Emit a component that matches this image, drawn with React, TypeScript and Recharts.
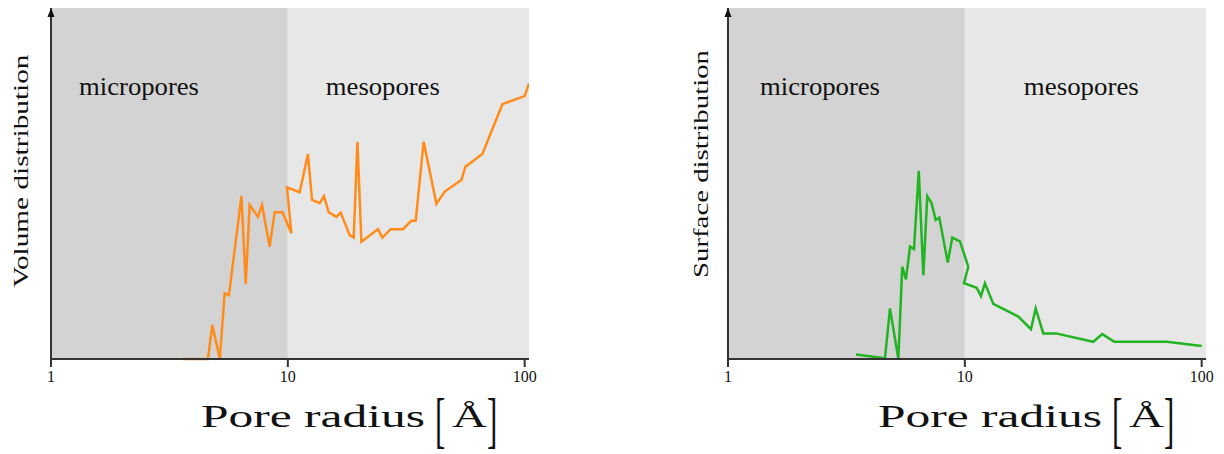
import React from 'react';
import { LineChart, Line, XAxis, YAxis, ReferenceArea } from 'recharts';

// Pore radius [Å] and volume distribution (arbitrary units, 0-100)
const volumeRadius = [
  3.61, 4.6, 4.8, 5.16, 5.41, 5.64, 6.37, 6.64, 6.9, 7.48,
  7.78, 8.38, 8.8, 9.5, 10.35, 9.92, 11.22, 12.16, 12.65, 13.63,
  14.21, 14.88, 16.03, 16.72, 18.24, 18.97, 19.67, 20.45, 24.03, 25.07,
  27.19, 30.64, 33.24, 34.66, 37.46, 42.39, 45.95, 54.05, 56.19, 66.29,
  80.51, 100, 104.3,
];
const volumeValues = [
  0, 0, 9.7, 0, 18.7, 18.2, 46.4, 21.4, 43.9, 40.5,
  43.9, 32.0, 41.8, 41.8, 35.8, 48.9, 47.5, 58.4, 45.3, 44.4,
  46.4, 41.8, 40.5, 41.7, 35.3, 34.6, 61.9, 33.4, 37.0, 34.6,
  37.0, 37.0, 39.4, 39.4, 61.9, 44.2, 47.7, 51.0, 54.8, 58.4,
  72.6, 74.9, 78.5,
];

// Pore radius [Å] and surface distribution (arbitrary units, 0-100)
const surfaceRadius = [
  3.47, 4.6, 4.83, 5.24, 5.44, 5.64, 5.87, 6.1, 6.39, 6.68,
  6.94, 7.24, 7.53, 7.8, 8.47, 8.85, 9.54, 10.34, 9.92, 11.22,
  11.7, 12.16, 13.19, 16.82, 19.02, 19.91, 21.44, 24.25, 34.85, 38.05,
  42.76, 71.17, 100,
];
const surfaceValues = [
  1.3, 0.2, 14.4, 0, 26.3, 22.7, 32.0, 31.3, 53.6, 23.9,
  46.4, 44.4, 39.6, 40.3, 27.5, 34.6, 33.5, 26.3, 21.6, 20.3,
  17.9, 21.6, 15.7, 12.1, 8.5, 14.4, 7.3, 7.3, 4.9, 7.1,
  4.9, 4.9, 3.7,
];

const xTicks = [1, 10, 100];
const regionNames = ['micropores', 'mesopores'];
const regionEdges = [1, 10, 104.3];
const regionFills = ['#d3d3d3', '#e7e7e7'];

const SERIF = 'Liberation Serif, Times New Roman, serif';
const AXIS = '#333333';

type PanelProps = {
  left: number;
  marginLeft: number;
  marginRight: number;
  radius: number[];
  values: number[];
  color: string;
  yLabel: string;
  yLabelLen: number;
  yLabelX: number;
  yLabelCy: number;
  regionDx: number[];
  regionLen: number[];
};

function RadiusLabel({ viewBox }: any) {
  const x0 = viewBox.x + 150;
  const base = viewBox.y + 68;
  return (
    <g fill="#111" style={{ fontFamily: SERIF }}>
      <text x={x0} y={base} fontSize={32} textLength={224} lengthAdjust="spacingAndGlyphs">
        Pore radius
      </text>
      <text transform={`translate(${x0 + 234},${viewBox.y + 82}) scale(0.5,1)`} fontSize={62}>
        [
      </text>
      <text x={x0 + 251} y={base} fontSize={32} textLength={35} lengthAdjust="spacingAndGlyphs">
        Å
      </text>
      <text transform={`translate(${x0 + 286},${viewBox.y + 82}) scale(0.5,1)`} fontSize={62}>
        ]
      </text>
    </g>
  );
}

function Panel(p: PanelProps) {
  const data = p.radius.map((r, i) => ({ r, v: p.values[i] }));
  return (
    <div style={{ position: 'absolute', left: p.left, top: 0 }}>
      <LineChart
        width={612}
        height={454}
        data={data}
        margin={{ top: 8, right: p.marginRight, bottom: 0, left: p.marginLeft - 1 }}
      >
        {regionNames.map((name, i) => (
          <ReferenceArea
            key={name}
            x1={regionEdges[i]}
            x2={regionEdges[i + 1]}
            y1={0}
            y2={100}
            fill={regionFills[i]}
            fillOpacity={1}
            stroke="none"
            label={(lp: any) => (
              <text
                x={lp.viewBox.x + p.regionDx[i]}
                y={lp.viewBox.y + 87}
                style={{ fontFamily: SERIF }}
                fontSize={26}
                fill="#111"
                textLength={p.regionLen[i]}
                lengthAdjust="spacingAndGlyphs"
              >
                {name}
              </text>
            )}
          />
        ))}
        <XAxis
          dataKey="r"
          type="number"
          scale="log"
          domain={[1, 104.3]}
          allowDataOverflow
          ticks={xTicks}
          height={95}
          tickSize={8}
          tickMargin={4}
          axisLine={{ stroke: AXIS, strokeWidth: 2 }}
          tickLine={{ stroke: AXIS, strokeWidth: 2 }}
          tick={{ fill: '#111', fontSize: 16, style: { fontFamily: SERIF } }}
          label={(lp: any) => <RadiusLabel viewBox={lp.viewBox} />}
        />
        <YAxis
          type="number"
          domain={[0, 100]}
          width={1}
          tick={false}
          tickLine={false}
          axisLine={{ stroke: AXIS, strokeWidth: 2, markerStart: 'url(#axisArrow)' }}
          label={(lp: any) => (
            <text
              transform={`translate(${p.yLabelX},${p.yLabelCy}) rotate(-90)`}
              textAnchor="middle"
              style={{ fontFamily: SERIF }}
              fontSize={22}
              fill="#111"
              textLength={p.yLabelLen}
              lengthAdjust="spacingAndGlyphs"
            >
              {p.yLabel}
            </text>
          )}
        />
        <Line
          type="linear"
          dataKey="v"
          stroke={p.color}
          strokeWidth={2.5}
          dot={false}
          activeDot={false}
          isAnimationActive={false}
        />
      </LineChart>
    </div>
  );
}

export default function App() {
  return (
    <div style={{ position: 'absolute', left: 0, top: 0, width: 1224, height: 454, background: '#fff' }}>
      <svg width={0} height={0} style={{ position: 'absolute' }}>
        <defs>
          <marker
            id="axisArrow"
            markerUnits="userSpaceOnUse"
            viewBox="-5 -1 10 12"
            refX={0}
            refY={0}
            markerWidth={10}
            markerHeight={12}
            orient="0"
          >
            <path d="M -3.5 9 L 0 0 L 3.5 9 Z" fill="#111" />
          </marker>
        </defs>
      </svg>
      <Panel
        left={0}
        marginLeft={51}
        marginRight={83}
        radius={volumeRadius}
        values={volumeValues}
        color="#ff8c1a"
        yLabel="Volume distribution"
        yLabelLen={233}
        yLabelX={28}
        yLabelCy={171}
        regionDx={[28, 38]}
        regionLen={[120, 114]}
      />
      <Panel
        left={612}
        marginLeft={116}
        marginRight={18}
        radius={surfaceRadius}
        values={surfaceValues}
        color="#22b422"
        yLabel="Surface distribution"
        yLabelLen={228}
        yLabelX={96}
        yLabelCy={164}
        regionDx={[32, 59]}
        regionLen={[120, 115]}
      />
    </div>
  );
}
